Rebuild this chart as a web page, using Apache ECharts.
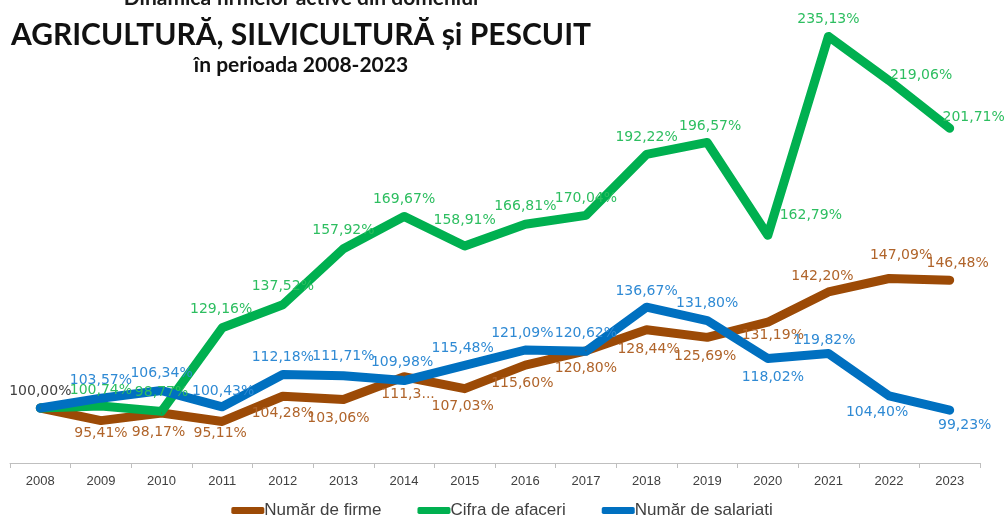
<!DOCTYPE html>
<html>
<head>
<meta charset="utf-8">
<script src="https://cdn.jsdelivr.net/npm/echarts@6/dist/echarts.min.js"></script>
<style>
  html, body { margin: 0; padding: 0; background: #fff; }
  #chart { width: 1004px; height: 517px; }
</style>
</head>
<body>
<div id="chart"></div>
<script>
// ani 2008-2023
const years = ['2008', '2009', '2010', '2011', '2012', '2013', '2014', '2015',
  '2016', '2017', '2018', '2019', '2020', '2021', '2022', '2023']

// valori in % fata de 2008
const firme = [100.00, 95.41, 98.17, 95.11, 104.28, 103.06, 111.35, 107.03,
  115.60, 120.80, 128.44, 125.69, 131.19, 142.20, 147.09, 146.48]
const cifra = [100.00, 100.74, 98.77, 129.16, 137.52, 157.92, 169.67, 158.91,
  166.81, 170.04, 192.22, 196.57, 162.79, 235.13, 219.06, 201.71]
const salariati = [100.00, 103.57, 106.34, 100.43, 112.18, 111.71, 109.98, 115.48,
  121.09, 120.62, 136.67, 131.80, 118.02, 119.82, 104.40, 99.23]

// etichete trunchiate in original
const firmeText = { 6: '111,3...' }

// pozitia etichetelor (dx, dy fata de punct) - doar stil
const firmeOff = [[0, -17], [0, 13], [-3, 19], [-2, 12], [0, 17], [-5, 19], [4, 18], [-2, 18],
  [-3, 18], [0, 18], [2, 20], [-2, 19], [5, 13], [-6, -16], [12, -23], [8, -17]]
const cifraOff = [null, [0, -16], [0, -19], [-1, -18], [0, -18], [0, -18], [0, -17], [0, -26],
  [0, -18], [0, -17], [0, -17], [3, -16], [43, -20], [0, -17], [32, -5], [24, -11]]
const salOff = [null, [0, -18], [0, -17], [1, -15], [0, -17], [0, -19], [-2, -18], [-2, -17],
  [-3, -17], [0, -18], [0, -16], [0, -17], [5, 19], [-4, -13], [-12, 16], [15, 15]]

const fmt = v => v.toFixed(2).replace('.', ',') + '%'

function makeData(values, offsets, texts) {
  return values.map((v, i) => {
    const off = offsets[i]
    if (!off) return { value: v, label: { show: false } }
    const item = { value: v, label: { offset: off } }
    if (texts && texts[i]) item.label.formatter = texts[i]
    return item
  })
}

const chart = echarts.init(document.getElementById('chart'))

const labelBase = {
  show: true,
  position: 'inside',
  fontFamily: 'DejaVu Sans',
  fontSize: 14,
  formatter: p => fmt(p.value)
}

const firmeData = makeData(firme, firmeOff, firmeText)
firmeData[0].label.color = '#404040'

function lineSeries(name, data, lineColor, labelColor) {
  return {
    name: name,
    type: 'line',
    data: data,
    symbol: 'circle',
    symbolSize: 1,
    itemStyle: { color: lineColor },
    lineStyle: { width: 9, color: lineColor, cap: 'round', join: 'round' },
    label: Object.assign({}, labelBase, { color: labelColor }),
    emphasis: { disabled: true }
  }
}

const option = {
  animation: false,
  backgroundColor: '#fff',
  graphic: [
    {
      type: 'text', x: 301, y: -2,
      style: { text: 'Dinamica firmelor active din domeniul', font: 'bold 21px Lato',
        fill: '#1a1a1a', align: 'center', verticalAlign: 'middle' }
    },
    {
      type: 'text', x: 301, y: 35,
      style: { text: 'AGRICULTURĂ, SILVICULTURĂ și PESCUIT', font: 'bold 30px Lato',
        fill: '#111', align: 'center', verticalAlign: 'middle' }
    },
    {
      type: 'text', x: 301, y: 65,
      style: { text: 'în perioada 2008-2023', font: 'bold 21px Lato',
        fill: '#111', align: 'center', verticalAlign: 'middle' }
    }
  ],
  legend: {
    top: 497,
    left: 'center',
    itemWidth: 33,
    itemHeight: 7,
    itemGap: 36,
    icon: 'roundRect',
    textStyle: { fontFamily: 'Liberation Sans', fontSize: 17, color: '#404040', padding: [0, 0, 0, -5] },
    data: ['Număr de firme', 'Cifra de afaceri', 'Număr de salariati']
  },
  grid: { left: 10, right: 24, top: 23, bottom: 54 },
  xAxis: {
    type: 'category',
    data: years,
    axisLine: { lineStyle: { color: '#bfbfbf', width: 1 } },
    axisTick: { show: true, length: 5, lineStyle: { color: '#bfbfbf' } },
    axisLabel: { fontFamily: 'Liberation Sans', fontSize: 13, color: '#404040', margin: 12 }
  },
  yAxis: {
    type: 'value',
    min: 80,
    max: 240,
    show: false,
    splitLine: { show: false }
  },
  series: [
    lineSeries('Număr de firme', firmeData, '#9c4a06', '#b0642a'),
    lineSeries('Cifra de afaceri', makeData(cifra, cifraOff), '#00b050', '#2dbe60'),
    lineSeries('Număr de salariati', makeData(salariati, salOff), '#0070c0', '#2f8ad4')
  ]
}

chart.setOption(option)
</script>
</body>
</html>
